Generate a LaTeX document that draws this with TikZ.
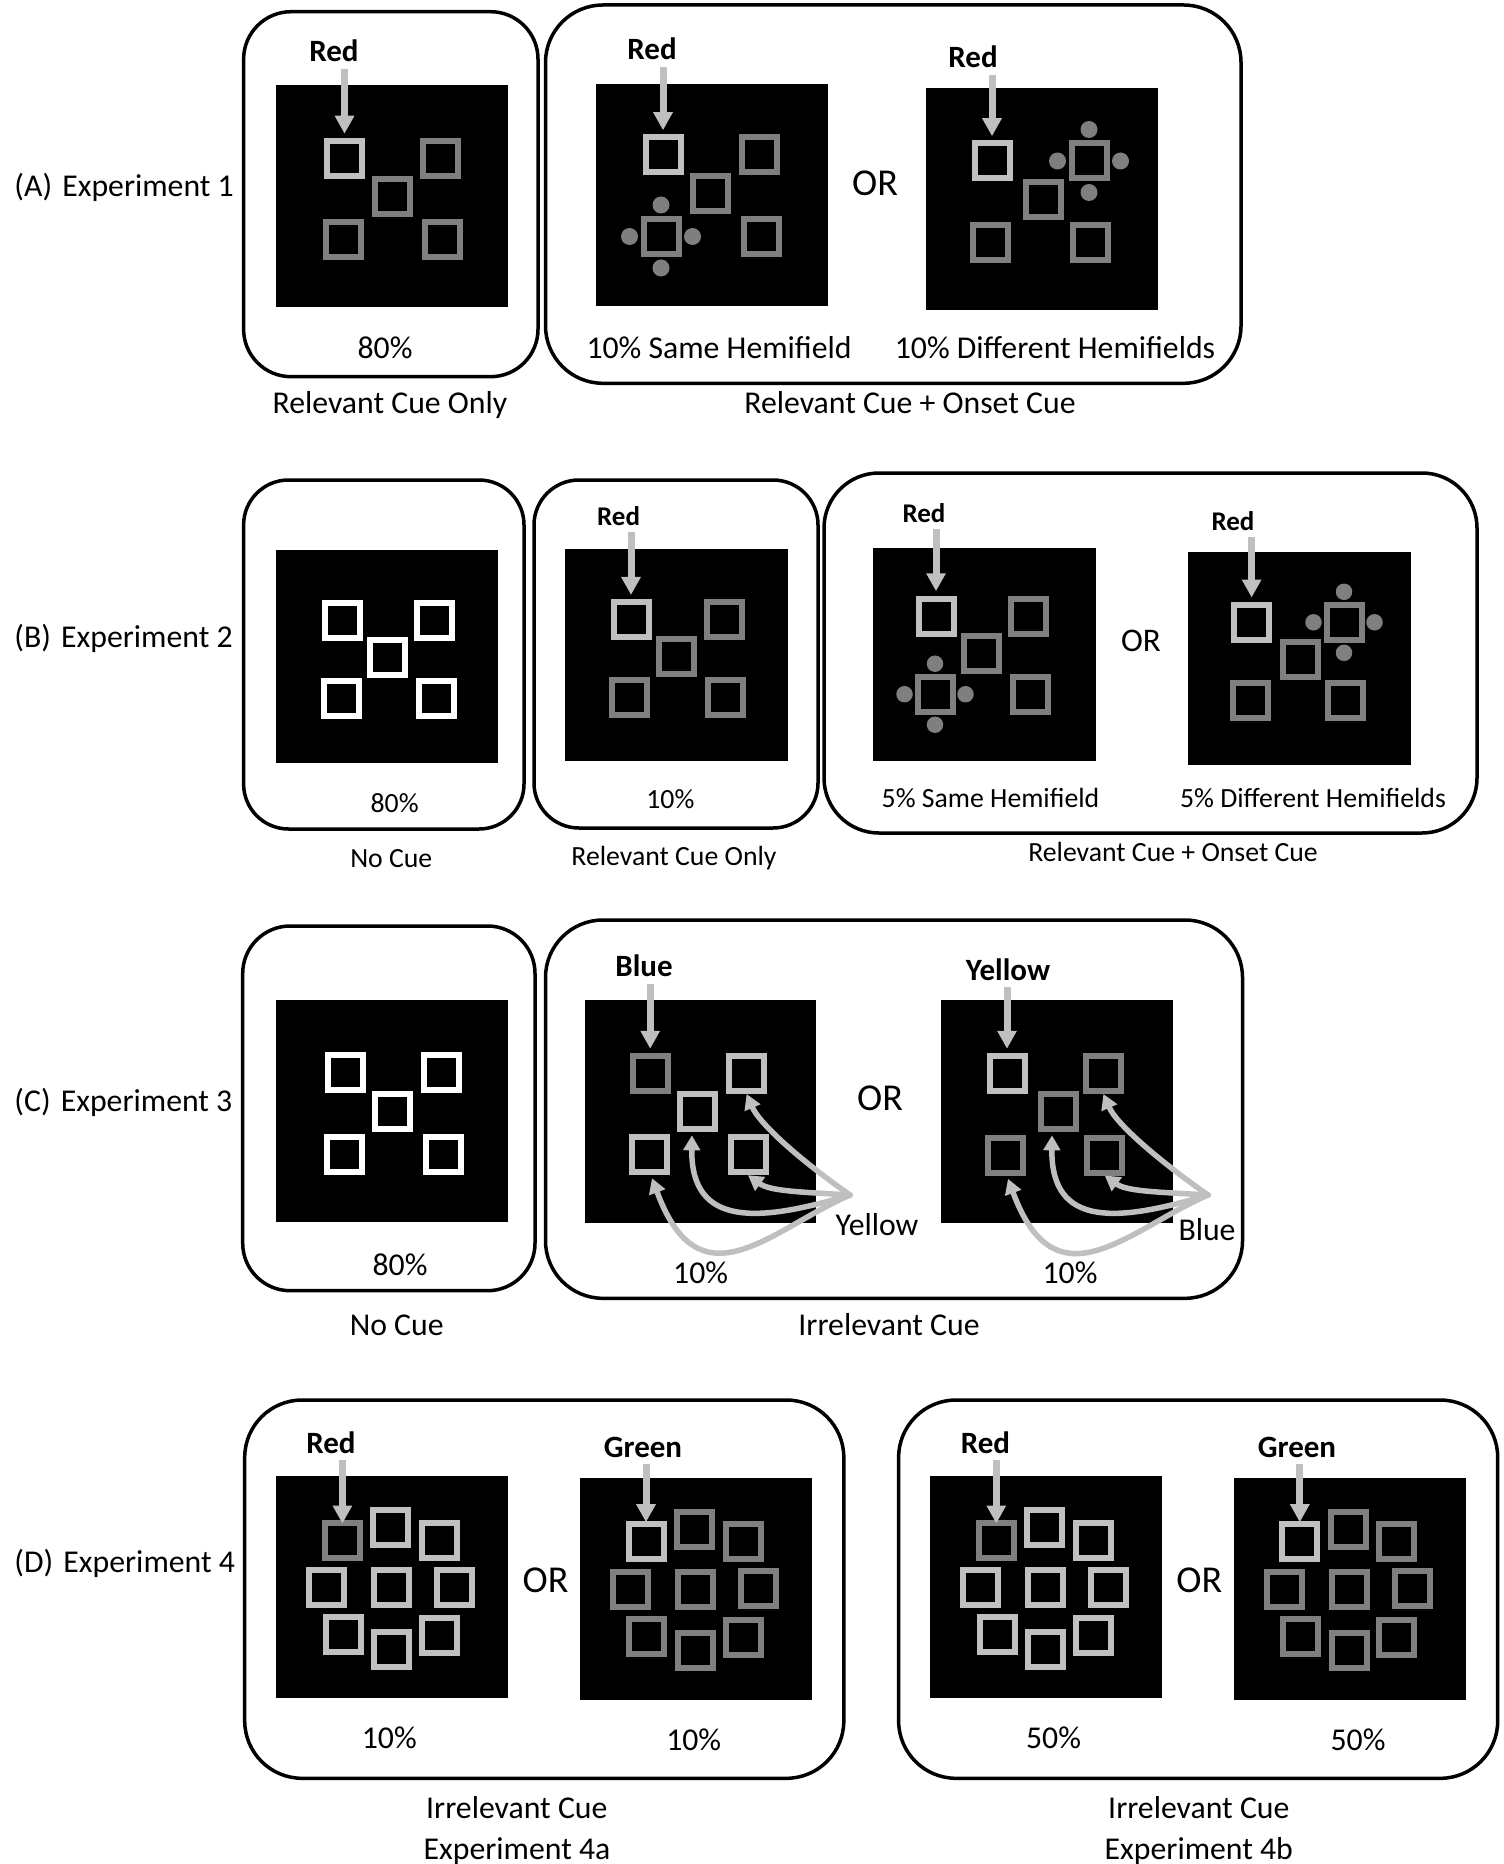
\documentclass[tikz,border=0pt]{standalone}
\usepackage{fontspec}
\setmainfont{Carlito}
\usetikzlibrary{arrows.meta,calc}
\definecolor{stimlight}{HTML}{C0C0C0}
\definecolor{stimdark}{HTML}{7F7F7F}
\definecolor{cuegray}{HTML}{BFBFBF}
\tikzset{
  every picture/.append style={line cap=round,line join=round},
  cue panel/.style={draw=black,line width=1.4pt,rounded corners=23pt},
  cue panel small/.style={cue panel,rounded corners=19pt},
  cue screen/.style={fill=black},
  cue stim/.style={rectangle,line width=2.4pt,minimum size=14pt,inner sep=0pt,line join=miter,line cap=butt},
  stim white/.style={cue stim,draw=white},
  stim light/.style={cue stim,draw=stimlight},
  stim dark/.style={cue stim,draw=stimdark},
  cue onset/.style={fill=stimdark},
  cue arrow/.style={draw=cuegray,line width=2.8pt,line cap=butt,shorten >=1.7pt,-{Triangle[length=7.2pt,width=7.4pt]}},
  cue spread/.style={draw=cuegray,line width=2.2pt,-{Triangle[length=6pt,width=6.6pt]}},
  cue word/.style={font=\bfseries\fontsize{12.4}{15}\selectfont,text height=8pt,text depth=0pt,inner sep=2.6pt},
  cue note/.style={font=\fontsize{12.7}{15}\selectfont,text height=8.2pt,text depth=0pt,inner sep=0pt},
  cue or/.style={font=\fontsize{15.2}{18}\selectfont,text height=9.8pt,text depth=0pt,inner sep=0pt},
  cue word b/.style={cue word,font=\bfseries\fontsize{10.8}{13}\selectfont,text height=7pt},
  cue note b/.style={cue note,font=\fontsize{11.1}{13}\selectfont,text height=7.1pt},
  cue or b/.style={cue or,font=\fontsize{13.2}{16}\selectfont,text height=8.5pt}
}
% ring of nine placeholders used in Experiment 4
\def\ringlayout{2/114.3/51.5,3/163/64,4/50.2/111.3,5/115.2/111.5,6/178.3/111.2,7/66.9/158.6,8/115.2/173,9/163/159.8}

\begin{document}
\begin{tikzpicture}[x=0.4pt,y=-0.4pt]
  \useasboundingbox (0,0) rectangle (1504,1864);

  % experiment labels
  \node[cue note,anchor=west] (expA) at (14,186) {(A)\hspace{0.32em}Experiment 1};
  \node[cue note,anchor=west] (expB) at (14,637) {(B)\hspace{0.32em}Experiment 2};
  \node[cue note,anchor=west] (expC) at (14,1101) {(C)\hspace{0.32em}Experiment 3};
  \node[cue note,anchor=west] (expD) at (14,1562) {(D)\hspace{0.32em}Experiment 4};

  % ---------- (A) Experiment 1 ----------
  \draw[cue panel small] (243.6,11.7) rectangle (538,376.7);
  \draw[cue panel] (545.5,5) rectangle (1241,383.3);
  \fill[cue screen] (275.7,85) rectangle (507.9,306.7);
  \fill[cue screen] (596,84) rectangle (828.3,305.7);
  \fill[cue screen] (925.7,88.3) rectangle (1157.5,310);

  \node[stim light] (a1s1) at (344.5,158.5) {};
  \foreach \n/\x/\y in {2/440.5/158.5,3/392/197,4/343/240,5/442/240}
    \node[stim dark] (a1s\n) at (\x,\y) {};
  \node[stim light] (a2s1) at (663,155) {};
  \foreach \n/\x/\y in {2/759/155,3/710/193.5,4/661/236.5,5/761/237}
    \node[stim dark] (a2s\n) at (\x,\y) {};
  \node[stim light] (a3s1) at (992,161) {};
  \foreach \n/\x/\y in {2/1089/161,3/1043/200,4/990/243,5/1090/242.5}
    \node[stim dark] (a3s\n) at (\x,\y) {};
  \foreach \a in {0,90,180,270} {
    \fill[cue onset] (a2s4) ++(\a:31.5) circle (3.4pt);
    \fill[cue onset] (a3s2) ++(\a:31.5) circle (3.4pt);
  }

  \node[cue word] (a1cue) at (334,52) {Red};
  \node[cue word] (a2cue) at (652,50) {Red};
  \node[cue word] (a3cue) at (973,58) {Red};
  \draw[cue arrow] (a1cue.south -| a1s1.north) -- (a1s1.north);
  \draw[cue arrow] (a2cue.south -| a2s1.north) -- (a2s1.north);
  \draw[cue arrow] (a3cue.south -| a3s1.north) -- (a3s1.north);

  \node[cue or] (aor) at (875,183) {OR};
  \node[cue note] (a1pct) at (385,348) {80\%};
  \node[cue note] (a2pct) at (719,348) {10\% Same Hemifield};
  \node[cue note] (a3pct) at (1055,348) {10\% Different Hemifields};
  \node[cue note] (a1cap) at (390,403) {Relevant Cue Only};
  \node[cue note] (a2cap) at (910,403) {Relevant Cue + Onset Cue};

  % ---------- (B) Experiment 2 ----------
  \draw[cue panel small,rounded corners=18pt] (243.6,480) rectangle (524,829);
  \draw[cue panel small,rounded corners=18pt] (534,480) rectangle (818,828);
  \draw[cue panel,rounded corners=22pt] (824,473) rectangle (1477,833);
  \fill[cue screen] (275.7,550) rectangle (498,762.7);
  \fill[cue screen] (565,549) rectangle (787.5,761);
  \fill[cue screen] (872.6,548.3) rectangle (1095.7,760.7);
  \fill[cue screen] (1188.3,552.3) rectangle (1410.5,765);

  \foreach \n/\x/\y in {1/342.4/620.3,2/434.6/620.3,3/387.8/657.2,4/341/698,5/436.4/698}
    \node[stim white] (b1s\n) at (\x,\y) {};
  \node[stim light] (b2s1) at (631,619.7) {};
  \foreach \n/\x/\y in {2/724/619.7,3/676.7/656.3,4/629.3/697.7,5/725/697.7}
    \node[stim dark] (b2s\n) at (\x,\y) {};
  \node[stim light] (b3s1) at (936,616) {};
  \foreach \n/\x/\y in {2/1028.6/616,3/981.8/653.3,4/935/694.2,5/1030/694.2}
    \node[stim dark] (b3s\n) at (\x,\y) {};
  \node[stim light] (b4s1) at (1251.6,622.3) {};
  \foreach \n/\x/\y in {2/1344/622.3,3/1300.4/659.3,4/1250.3/700,5/1345.9/700}
    \node[stim dark] (b4s\n) at (\x,\y) {};
  \foreach \a in {0,90,180,270} {
    \fill[cue onset] (b3s4) ++(\a:30.5) circle (3.3pt);
    \fill[cue onset] (b4s2) ++(\a:30.5) circle (3.3pt);
  }

  \node[cue word b] (b2cue) at (618.6,516.7) {Red};
  \node[cue word b] (b3cue) at (924,513.3) {Red};
  \node[cue word b] (b4cue) at (1233,521.7) {Red};
  \draw[cue arrow] (b2cue.south -| b2s1.north) -- (b2s1.north);
  \draw[cue arrow] (b3cue.south -| b3s1.north) -- (b3s1.north);
  \draw[cue arrow] (b4cue.south -| b4s1.north) -- (b4s1.north);

  \node[cue or b] (bor) at (1141,640.7) {OR};
  \node[cue note b] (b1pct) at (394.6,803.3) {80\%};
  \node[cue note b] (b2pct) at (670.4,800) {10\%};
  \node[cue note b] (b3pct) at (990.5,799) {5\% Same Hemifield};
  \node[cue note b] (b4pct) at (1313,799) {5\% Different Hemifields};
  \node[cue note b] (b1cap) at (391.3,858.3) {No Cue};
  \node[cue note b] (b2cap) at (674,856.7) {Relevant Cue Only};
  \node[cue note b] (b3cap) at (1173,852.7) {Relevant Cue + Onset Cue};

  % ---------- (C) Experiment 3 ----------
  \draw[cue panel small] (242.7,926) rectangle (535,1290.7);
  \draw[cue panel] (545.5,920) rectangle (1242.5,1298.3);
  \fill[cue screen] (276,1000) rectangle (508.3,1222.3);
  \fill[cue screen] (584.5,1000) rectangle (816.4,1223.3);
  \fill[cue screen] (940.8,1000) rectangle (1172.7,1222.7);

  \foreach \n/\x/\y in {1/345.2/1072.8,2/441.7/1072.8,3/392.8/1111.7,4/344.2/1154.5,5/443.3/1154.5}
    \node[stim white] (c1s\n) at (\x,\y) {};
  \node[stim dark] (c2s1) at (650.2,1073.5) {};
  \foreach \n/\x/\y in {2/746.6/1073.5,3/697.9/1111.8,4/649/1154.7,5/748/1154.7}
    \node[stim light] (c2s\n) at (\x,\y) {};
  \node[stim light] (c3s1) at (1007,1073.5) {};
  \foreach \n/\x/\y in {2/1103.4/1073.5,3/1058/1111.8,4/1005/1155.3,5/1104.7/1155}
    \node[stim dark] (c3s\n) at (\x,\y) {};

  \node[cue word] (c2cue) at (644,966.7) {Blue};
  \node[cue word] (c3cue) at (1008,970) {Yellow};
  \draw[cue arrow] (c2cue.south -| c2s1.north) -- (c2s1.north);
  \draw[cue arrow] (c3cue.south -| c3s1.north) -- (c3s1.north);

  % irrelevant colour spread over the other placeholders
  \coordinate (c2src) at (850,1195);
  \coordinate (c3src) at (1208,1195);
  \foreach \p in {c2,c3} {
    \draw[cue spread] (\p src) .. controls +(-50,-35) and +(13,30) .. (\p s2.south);
    \draw[cue spread] (\p src) .. controls +(-50,-3) and +(22,16) .. (\p s5.south);
    \draw[cue spread] (\p src) .. controls +(-90,27) and +(-1,93) .. ($(\p s3.south)+(-6,3)$);
    \draw[cue spread] (\p src) .. controls +(-80,35) and +(48,130) .. ($(\p s4.south)+(3,3)$);
  }

  \node[cue or] (cor) at (880,1098.3) {OR};
  \node[cue note] (c2irr) at (877,1225) {Yellow};
  \node[cue note] (c3irr) at (1207,1230) {Blue};
  \node[cue note] (c1pct) at (400,1265.7) {80\%};
  \node[cue note] (c2pct) at (700.6,1273.3) {10\%};
  \node[cue note] (c3pct) at (1070,1273.3) {10\%};
  \node[cue note] (c1cap) at (396.7,1325) {No Cue};
  \node[cue note] (c2cap) at (889,1325) {Irrelevant Cue};

  % ---------- (D) Experiment 4 ----------
  \draw[cue panel] (244.7,1400) rectangle (843.8,1778.3);
  \draw[cue panel] (898.6,1400) rectangle (1497.7,1778.3);
  \fill[cue screen] (276.4,1476) rectangle (508,1698.3);
  \fill[cue screen] (580,1477.7) rectangle (812.2,1700);
  \fill[cue screen] (930.3,1476) rectangle (1162.1,1698.3);
  \fill[cue screen] (1233.8,1477.7) rectangle (1466.4,1700);

  \coordinate (d1o) at (276.4,1476);
  \coordinate (d2o) at (580,1477.7);
  \coordinate (d3o) at (930.3,1476);
  \coordinate (d4o) at (1233.8,1477.7);
  \node[stim dark] (d1s1) at ($(d1o)+(66,64)$) {};
  \foreach \n/\x/\y in \ringlayout
    \node[stim light] (d1s\n) at ($(d1o)+(\x,\y)$) {};
  \node[stim light] (d2s1) at ($(d2o)+(66,64)$) {};
  \foreach \n/\x/\y in \ringlayout
    \node[stim dark] (d2s\n) at ($(d2o)+(\x,\y)$) {};
  \node[stim dark] (d3s1) at ($(d3o)+(66,64)$) {};
  \foreach \n/\x/\y in \ringlayout
    \node[stim light] (d3s\n) at ($(d3o)+(\x,\y)$) {};
  \node[stim light] (d4s1) at ($(d4o)+(66,64)$) {};
  \foreach \n/\x/\y in \ringlayout
    \node[stim dark] (d4s\n) at ($(d4o)+(\x,\y)$) {};

  \node[cue word] (d1cue) at (331,1443.3) {Red};
  \node[cue word] (d2cue) at (643,1447.3) {Green};
  \node[cue word] (d3cue) at (985.4,1443.3) {Red};
  \node[cue word] (d4cue) at (1297,1447.3) {Green};
  \draw[cue arrow,shorten >=-1.6pt] (d1cue.south -| d1s1.north) -- (d1s1.north);
  \draw[cue arrow,shorten >=-0.4pt] (d2cue.south -| d2s1.north) -- (d2s1.north);
  \draw[cue arrow,shorten >=-1.6pt] (d3cue.south -| d3s1.north) -- (d3s1.north);
  \draw[cue arrow,shorten >=-0.4pt] (d4cue.south -| d4s1.north) -- (d4s1.north);

  \node[cue or] (d1or) at (545.5,1580) {OR};
  \node[cue or] (d2or) at (1199.3,1580) {OR};
  \node[cue note] (d1pct) at (389.3,1738.3) {10\%};
  \node[cue note] (d2pct) at (693.7,1740) {10\%};
  \node[cue note] (d3pct) at (1053.5,1738.3) {50\%};
  \node[cue note] (d4pct) at (1358,1740) {50\%};
  \node[cue note] (d1cap) at (516.8,1808.3) {Irrelevant Cue};
  \node[cue note] (d1exp) at (517,1849) {Experiment 4a};
  \node[cue note] (d2cap) at (1198.8,1808.3) {Irrelevant Cue};
  \node[cue note] (d2exp) at (1198.8,1849) {Experiment 4b};
\end{tikzpicture}
\end{document}
